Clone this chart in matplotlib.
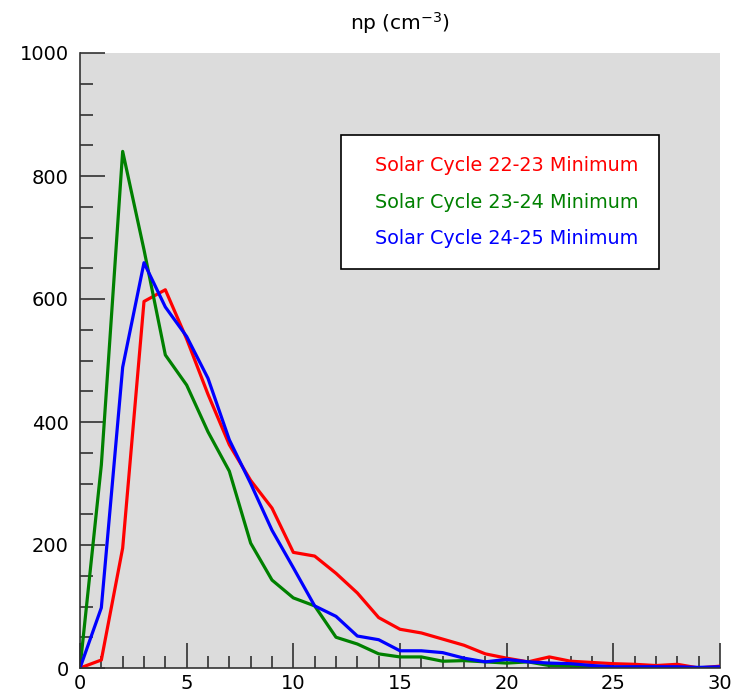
import matplotlib
matplotlib.use('Agg')
import matplotlib.pyplot as plt
from matplotlib.ticker import MultipleLocator

# Density bins (cm^-3) and counts for each solar minimum
bins = list(range(31))

cycle_22_23 = [0, 13, 195, 596, 615, 535, 445, 363, 305, 260, 188, 182, 154, 122, 82,
               63, 57, 47, 37, 23, 16, 10, 18, 11, 9, 7, 6, 4, 6, 0, 3]
cycle_23_24 = [0, 330, 840, 680, 509, 460, 384, 320, 203, 143, 114, 101, 50, 39, 23,
               18, 18, 11, 12, 10, 8, 10, 4, 3, 1, 1, 1, 1, 0, 0, 0]
cycle_24_25 = [0, 98, 489, 659, 587, 539, 471, 371, 300, 224, 163, 101, 84, 52, 46,
               28, 28, 25, 16, 10, 14, 10, 8, 7, 4, 2, 2, 2, 2, 1, 2]

labels = ['Solar Cycle 22-23 Minimum', 'Solar Cycle 23-24 Minimum', 'Solar Cycle 24-25 Minimum']
colors = ['#ff0000', '#008000', '#0000ff']

fig = plt.figure(figsize=(7.44, 7.0), dpi=100)
ax = fig.add_axes([80 / 744, 32 / 700, 640 / 744, 615 / 700])
ax.set_facecolor('#dcdcdc')

for data, lab, col in zip([cycle_22_23, cycle_23_24, cycle_24_25], labels, colors):
    ax.plot(bins, data, color=col, lw=2.3, label=lab)

ax.set_xlim(0, 30)
ax.set_ylim(0, 1000)
ax.xaxis.set_major_locator(MultipleLocator(5))
ax.xaxis.set_minor_locator(MultipleLocator(1))
ax.yaxis.set_major_locator(MultipleLocator(200))
ax.yaxis.set_minor_locator(MultipleLocator(50))
ax.tick_params(which='major', direction='in', length=18, width=1.1, labelsize=14, color='#222222')
ax.tick_params(which='minor', direction='in', length=9, width=1.1, color='#222222')
ax.tick_params(axis='x', pad=4)
ax.tick_params(axis='y', pad=8)
for side in ['top', 'right']:
    ax.spines[side].set_visible(False)
for side in ['left', 'bottom']:
    ax.spines[side].set_color('#333333')
    ax.spines[side].set_linewidth(1.2)

ax.set_title('np (cm$^{-3}$)', fontsize=14.5, pad=17)

leg = ax.legend(loc='upper left', bbox_to_anchor=(0.408, 0.867), borderaxespad=0, fontsize=13.8,
                handlelength=0.4, handletextpad=0.25, borderpad=1.1, labelspacing=0.92,
                fancybox=False, framealpha=1, edgecolor='black', labelcolor='linecolor')
leg.get_frame().set_linewidth(1.2)
for line in leg.get_lines():
    line.set_visible(False)

fig.savefig('out.png', dpi=100)
